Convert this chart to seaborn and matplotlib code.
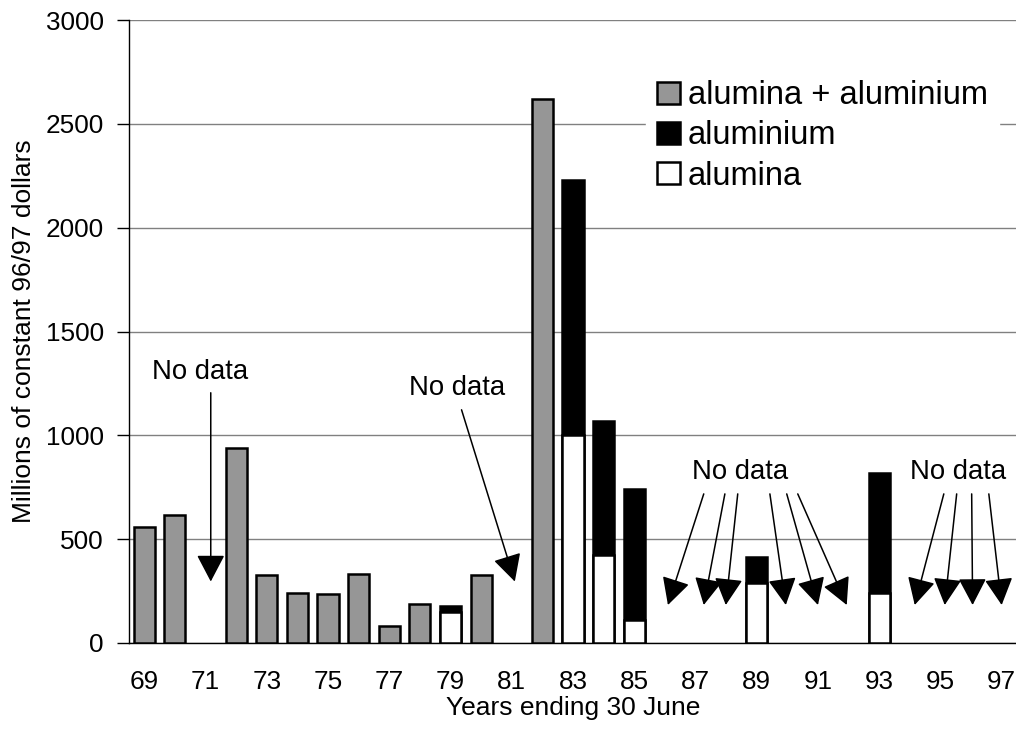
import numpy as np
import pandas as pd
import matplotlib
matplotlib.use("Agg")
import matplotlib.pyplot as plt
from matplotlib.patches import Patch
import seaborn as sns

# data (millions of constant 96/97 dollars)
all_years = [str(y) for y in range(69, 98)]

combined_years = ["69", "70", "72", "73", "74", "75", "76", "77", "78", "80", "82"]
combined_vals = [558, 616, 939, 327, 240, 236, 332, 82, 188, 327, 2619]

split_years = ["79", "83", "84", "85", "89", "93"]
alumina_vals = [149, 1000, 425, 111, 291, 240]
aluminium_vals = [29, 1231, 646, 631, 122, 578]

# "No data" notes: label position, then arrows (start -> tip), in category/value units
note_text_x = [1.82, 10.2, 19.45, 26.57]
note_text_y = [1306, 1229, 824, 824]
arrow_start_x = [2.17, 10.36, 18.27, 18.96, 19.38, 20.43, 20.98, 21.34, 26.11, 26.53, 27.02, 27.58]
arrow_start_y = [1205, 1123] + [718] * 10
arrow_tip_x = [2.17, 12.1, 17.10, 18.27, 18.99, 20.95, 22.0, 22.94, 25.16, 26.14, 27.05, 28.0]
arrow_tip_y = [296, 296] + [183] * 10

df_comb = pd.DataFrame({"year": combined_years, "value": combined_vals})
df_split = pd.DataFrame({"year": split_years, "alumina": alumina_vals,
                         "aluminium": aluminium_vals})
df_split["total"] = df_split["alumina"] + df_split["aluminium"]

sns.set_theme(style="white")
plt.rcParams["font.family"] = ["Liberation Sans", "DejaVu Sans"]
for key in ["text.color", "axes.labelcolor", "xtick.color", "ytick.color"]:
    plt.rcParams[key] = "black"

GREY = "#969696"
fig = plt.figure(figsize=(10.16, 7.44), dpi=100)
ax = fig.add_axes([129 / 1016, 101 / 744, 888 / 1016, 623 / 744])

bar_kw = dict(order=all_years, width=0.69, saturation=1, edgecolor="black",
              linewidth=1.8, errorbar=None, ax=ax, zorder=3)
sns.barplot(df_comb, x="year", y="value", color=GREY, **bar_kw)
sns.barplot(df_split, x="year", y="total", color="black", **bar_kw)
sns.barplot(df_split, x="year", y="alumina", color="white", **bar_kw)

# axes
ax.set_xlim(-0.5, len(all_years) - 0.5)
ax.set_ylim(0, 3000)
ax.set_yticks(np.arange(0, 3001, 500))
ax.yaxis.grid(True, color="#808080", linewidth=1)
ax.set_axisbelow(True)
for side in ["top", "right"]:
    ax.spines[side].set_visible(False)
for side in ["left", "bottom"]:
    ax.spines[side].set_color("black")
    ax.spines[side].set_linewidth(1)

ax.set_xticks(np.arange(0, len(all_years), 2))
ax.set_xticklabels(all_years[::2])
ax.set_xticks(np.arange(-0.5, len(all_years), 1), minor=True)
ax.tick_params(axis="x", which="major", length=0, pad=19.5, labelsize=18.8)
ax.tick_params(axis="x", which="minor", length=9, width=1, color="black", direction="out")
ax.tick_params(axis="y", length=9, width=1, color="black", direction="out",
               left=True, pad=9, labelsize=18.8)

ax.set_xlabel("Years ending 30 June", fontsize=19, labelpad=1.5)
ax.set_ylabel("Millions of constant 96/97 dollars", fontsize=19, labelpad=7)

# annotations
for tx, ty in zip(note_text_x, note_text_y):
    ax.text(tx, ty, "No data", ha="center", va="center", fontsize=19.8, zorder=5)
for sx, sy, ex, ey in zip(arrow_start_x, arrow_start_y, arrow_tip_x, arrow_tip_y):
    ax.annotate("", xy=(ex, ey), xytext=(sx, sy),
                arrowprops=dict(arrowstyle="-|>,head_length=0.4,head_width=0.21",
                                mutation_scale=42, shrinkA=0, shrinkB=0,
                                lw=1.1, color="black"), zorder=5)

handles = [Patch(facecolor=GREY, edgecolor="black", linewidth=1.8, label="alumina + aluminium"),
           Patch(facecolor="black", edgecolor="black", linewidth=1.8, label="aluminium"),
           Patch(facecolor="white", edgecolor="black", linewidth=1.8, label="alumina")]
leg = ax.legend(handles=handles, loc="center", bbox_to_anchor=(0.781, 0.814),
                fontsize=23.5, handlelength=0.68, handleheight=0.68, handletextpad=0.25,
                labelspacing=0.28, borderpad=0.35, frameon=True, fancybox=False,
                framealpha=1, facecolor="white", edgecolor="white")
leg.set_zorder(6)

plt.savefig("out.png", dpi=100)
